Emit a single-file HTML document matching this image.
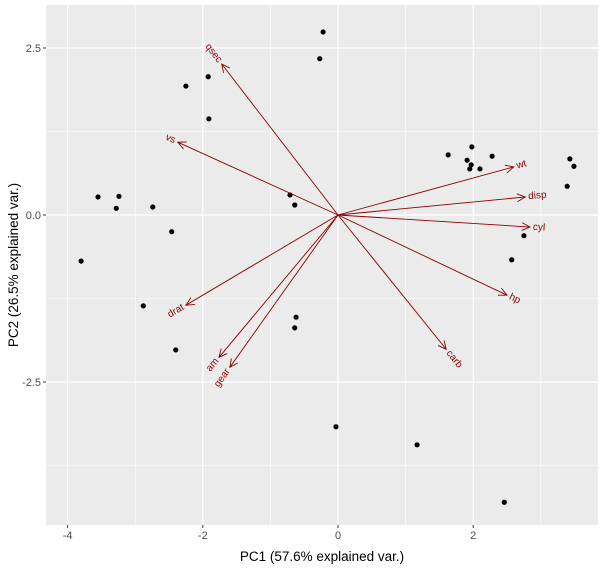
<!DOCTYPE html>
<html><head><meta charset="utf-8"><style>
body{margin:0;background:#fff;font-family:"Liberation Sans",sans-serif}
</style></head><body>
<svg id="c" width="606" height="574" xmlns="http://www.w3.org/2000/svg"></svg>
<script>
const ptX=[-0.22,-0.27,-2.25,-1.92,-1.91,1.63,1.98,1.91,1.97,1.95,2.10,2.28,3.43,3.49,3.39,-0.71,-0.64,-3.55,-3.24,-3.28,-2.74,-2.46,-3.80,2.75,2.57,-2.88,-0.62,-0.64,-2.40,-0.03,1.17,2.46];
const ptY=[2.74,2.34,1.93,2.07,1.44,0.90,1.02,0.82,0.75,0.69,0.69,0.88,0.84,0.73,0.43,0.30,0.15,0.27,0.28,0.10,0.12,-0.25,-0.69,-0.31,-0.67,-1.36,-1.53,-1.69,-2.02,-3.17,-3.44,-4.30];
const varNames=["qsec","vs","wt","disp","cyl","hp","carb","drat","am","gear"];
const varX=[-1.72,-2.37,2.60,2.77,2.84,2.50,1.60,-2.25,-1.76,-1.60];
const varY=[2.26,1.09,0.72,0.27,-0.18,-1.20,-2.01,-1.35,-2.13,-2.28];
const xTicks=[-4,-2,0,2];
const yTicks=[-2.5,0,2.5];
const xMinor=[-3,-1,1,3];
const yMinor=[-3.75,-1.25,1.25];
const L=46,R=598,T=5,B=525;
const sx=v=>338+v*67.6, sy=v=>215-v*66.8;
const NS="http://www.w3.org/2000/svg", svg=document.getElementById('c');
function mk(t,a,p){const e=document.createElementNS(NS,t);for(const k in a)e.setAttribute(k,a[k]);(p||svg).appendChild(e);return e;}
const panel=mk('rect',{x:L,y:T,width:R-L,height:B-T,fill:'#EBEBEB'});


xMinor.forEach(v=>{const l=mk('line',{x1:sx(v),x2:sx(v),y1:T,y2:B,stroke:'#fff','stroke-width':0.6});});
yMinor.forEach(v=>{const l=mk('line',{x1:L,x2:R,y1:sy(v),y2:sy(v),stroke:'#fff','stroke-width':0.6});});
xTicks.forEach(v=>{
 const l=mk('line',{x1:sx(v),x2:sx(v),y1:T,y2:B,stroke:'#fff','stroke-width':1.2});
 const k=mk('line',{x1:sx(v),x2:sx(v),y1:B,y2:B+3,stroke:'#333'});
 const t=mk('text',{x:sx(v),y:B+14,'text-anchor':'middle','font-size':11,fill:'#4D4D4D'});t.textContent=v;
});
yTicks.forEach(v=>{
 const l=mk('line',{x1:L,x2:R,y1:sy(v),y2:sy(v),stroke:'#fff','stroke-width':1.2});
 const k=mk('line',{x1:L-3,x2:L,y1:sy(v),y2:sy(v),stroke:'#333'});
 const t=mk('text',{x:L-5,y:sy(v)+4,'text-anchor':'end','font-size':11,fill:'#4D4D4D'});t.textContent=v.toFixed(1);
});
ptX.forEach((v,i)=>{const c=mk('circle',{cx:sx(v),cy:sy(ptY[i]),r:2.6,fill:'#000'});});
const col='#8B0000';
varNames.forEach((n,i)=>{
 const x0=sx(0),y0=sy(0),x1=sx(varX[i]),y1=sy(varY[i]);
 const g=mk('g',{});
 
 
 mk('line',{x1:x0,y1:y0,x2:x1,y2:y1,stroke:col,'stroke-width':0.9},g);
 const a=Math.atan2(y1-y0,x1-x0),h=9,w=0.45;
 mk('polyline',{points:`${x1-h*Math.cos(a-w)},${y1-h*Math.sin(a-w)} ${x1},${y1} ${x1-h*Math.cos(a+w)},${y1-h*Math.sin(a+w)}`,fill:'none',stroke:col,'stroke-width':0.9},g);
 const right=varX[i]>=0, off=3;
 const tx=x1+off*Math.cos(a), ty=y1+off*Math.sin(a);
 let deg=a*180/Math.PI; if(!right) deg+=180;
 const t=mk('text',{x:tx,y:ty,'text-anchor':right?'start':'end','dominant-baseline':'middle','font-size':10,fill:col,transform:`rotate(${deg} ${tx} ${ty})`},g);
 t.textContent=n;
 
 
});
const xt=mk('text',{x:(L+R)/2,y:561,'text-anchor':'middle','font-size':13.5,fill:'#000'});xt.textContent='PC1 (57.6% explained var.)';
const yt=mk('text',{x:18,y:(T+B)/2,'text-anchor':'middle','font-size':13.5,fill:'#000',transform:`rotate(-90 18 ${(T+B)/2})`});yt.textContent='PC2 (26.5% explained var.)';
</script>
</body></html>
